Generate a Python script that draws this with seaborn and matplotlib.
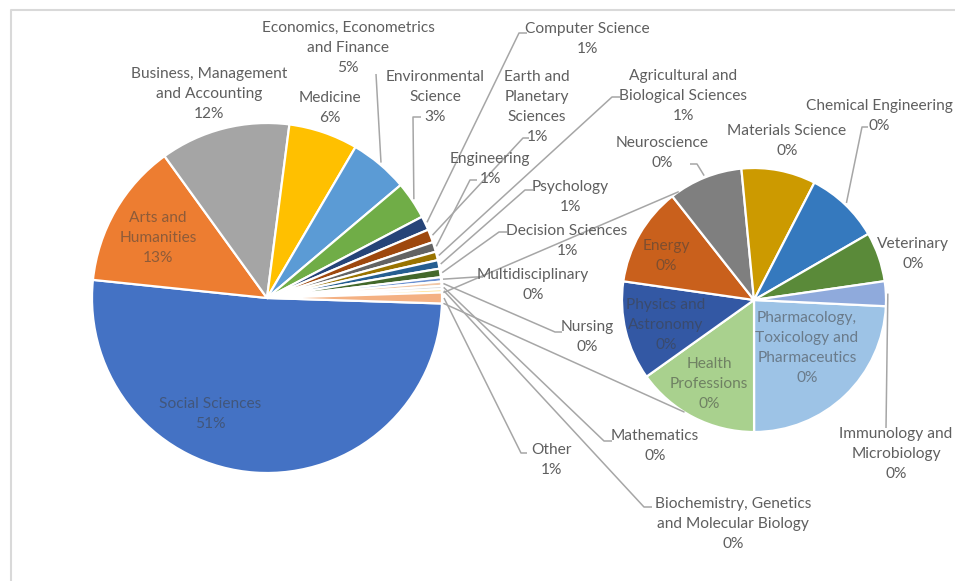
import matplotlib
matplotlib.use("Agg")
import matplotlib.pyplot as plt
import seaborn as sns
import numpy as np

# ---------------- data ----------------
main_categories = [
    "Social Sciences", "Arts and\nHumanities", "Business, Management\nand Accounting",
    "Medicine", "Economics, Econometrics\nand Finance", "Environmental\nScience",
    "Computer Science", "Earth and\nPlanetary\nSciences", "Engineering",
    "Agricultural and\nBiological Sciences", "Psychology", "Decision Sciences",
    "Multidisciplinary", "Nursing", "Mathematics",
    "Biochemistry, Genetics\nand Molecular Biology",
]
main_values = [1688, 442, 396, 211, 178, 115, 43, 40, 30, 26, 26, 26, 13, 13, 10, 10]

sec_categories = [
    "Pharmacology,\nToxicology and\nPharmaceutics", "Health\nProfessions",
    "Physics and\nAstronomy", "Energy", "Neuroscience", "Materials Science",
    "Chemical Engineering", "Veterinary", "Immunology and\nMicrobiology",
]
sec_values = [8, 5, 4, 4, 3, 3, 3, 2, 1]
other_label = "Other"

# ---------------- styles ----------------
main_colors = ["#4472C4", "#ED7D31", "#A5A5A5", "#FFC000", "#5B9BD5", "#70AD47",
               "#264478", "#9E480E", "#636363", "#997300", "#255E91", "#43682B",
               "#698ED0", "#F1C8A8", "#D9D9D9", "#FFE08A"]
other_color = "#F4B183"
sec_colors = ["#9DC3E6", "#A9D18E", "#3358A4", "#C9601C", "#7F7F7F", "#CC9A00",
              "#3579BE", "#5A8A39", "#8FAADC"]

sns.set_theme(style="white")
plt.rcParams["font.family"] = ["Lato", "DejaVu Sans"]

W, H = 955, 581
fig = plt.figure(figsize=(W / 100, H / 100), dpi=100)
ax = fig.add_axes([0, 0, 1, 1])


def P(x, y):
    return (x, H - y)


all_values = main_values + [sum(sec_values)]
all_names = main_categories + [other_label]
total = sum(all_values)

MC = P(267, 298)
MR = 175
SC = P(754, 300)
SR = 132

wp = dict(edgecolor="white", linewidth=1.6)
w_main, _ = ax.pie(all_values, colors=main_colors + [other_color], center=MC, radius=MR,
                   counterclock=False, startangle=-180.0 * all_values[-1] / total,
                   wedgeprops=wp)
w_sec, _ = ax.pie(sec_values, colors=sec_colors, center=SC, radius=SR,
                  counterclock=False, startangle=-2.7, wedgeprops=wp)

ax.set_xlim(0, W)
ax.set_ylim(0, H)
ax.set_aspect("equal")
ax.axis("off")


def pct(v):
    return f"{int(np.floor(100.0 * v / total + 0.5))}%"


def rim(w, c, r, frac=0.5):
    a = np.deg2rad(w.theta1 + frac * (w.theta2 - w.theta1))
    return (c[0] + r * np.cos(a), c[1] + r * np.sin(a))


OUT = "#5F5F5F"
IN = "#404040"
LINE = "#A6A6A6"
FS = 11.2
LS = 1.55

# label layout: name -> (x, y, hook points or None, inside)
main_layout = {
    "Social Sciences": ((210, 414), None, True),
    "Arts and\nHumanities": ((158, 238), None, True),
    "Business, Management\nand Accounting": ((209, 94), None, False),
    "Medicine": ((330, 108), None, False),
    "Economics, Econometrics\nand Finance": ((348, 48), [(376, 74)], False),
    "Environmental\nScience": ((435, 97), [(421, 117), (413, 117)], False),
    "Computer Science": ((587, 39), [(527, 33), (519, 33)], False),
    "Earth and\nPlanetary\nSciences": ((537, 107), [(529, 138), (523, 138)], False),
    "Engineering": ((490, 169), [(477, 180), (470, 180)], False),
    "Agricultural and\nBiological Sciences": ((683, 96), [(620, 97), (612, 97)], False),
    "Psychology": ((570, 197), [(533, 190), (525, 190)], False),
    "Decision Sciences": ((567, 241), [(507, 232), (499, 232)], False),
    "Multidisciplinary": ((533, 285), [(483, 277), (476, 277)], False),
    "Nursing": ((587, 337), [(562, 332), (555, 332)], False),
    "Mathematics": ((655, 446), [(612, 441), (604, 441)], False),
    "Biochemistry, Genetics\nand Molecular Biology": ((733, 524), [(652, 507), (644, 507)], False),
    "Other": ((551, 460), [(527, 453), (521, 453)], False),
}
sec_layout = {
    "Pharmacology,\nToxicology and\nPharmaceutics": ((807, 348), None, True),
    "Health\nProfessions": ((709, 384), None, True),
    "Physics and\nAstronomy": ((666, 325), None, True),
    "Energy": ((666, 256), None, True),
    "Neuroscience": ((662, 153), [(690, 164), (697, 164)], False),
    "Materials Science": ((787, 141), None, False),
    "Chemical Engineering": ((879, 116), [(868, 127), (862, 127)], False),
    "Veterinary": ((913, 254), None, False),
    "Immunology and\nMicrobiology": ((896, 454), [(886, 428)], False),
}


def draw_labels(wedges, names, values, layout, center, radius):
    for w, name, v in zip(wedges, names, values):
        (x, y), hook, inside = layout[name]
        txt = f"{name}\n{pct(v)}"
        if inside:
            ax.text(*P(x, y), txt, ha="center", va="center", multialignment="center",
                    fontsize=FS, linespacing=LS, color=IN, alpha=0.55)
        else:
            ax.text(*P(x, y), txt, ha="center", va="center", multialignment="center",
                    fontsize=FS, linespacing=LS, color=OUT)
        if hook:
            pts = [P(*h) for h in hook] + [rim(w, center, radius + 2)]
            xs, ys = zip(*pts)
            ax.plot(xs, ys, color=LINE, lw=1.1, solid_capstyle="butt", zorder=1)


draw_labels(w_main, all_names, all_values, main_layout, MC, MR)
draw_labels(w_sec, sec_categories, sec_values, sec_layout, SC, SR)

# series lines from the Other slice to the secondary pie
w_other = w_main[-1]
for frac, ang in ((1.0, 125.0), (0.0, -122.0)):
    p0 = rim(w_other, MC, MR + 2, frac)
    a = np.deg2rad(ang)
    p1 = (SC[0] + SR * np.cos(a), SC[1] + SR * np.sin(a))
    ax.plot([p0[0], p1[0]], [p0[1], p1[1]], color=LINE, lw=1.1, zorder=1)

# chart area border
ax.plot([11, 11, W], [0, H - 10, H - 10], color="#D9D9D9", lw=1.5, clip_on=False)

fig.savefig("out.png", dpi=100)
